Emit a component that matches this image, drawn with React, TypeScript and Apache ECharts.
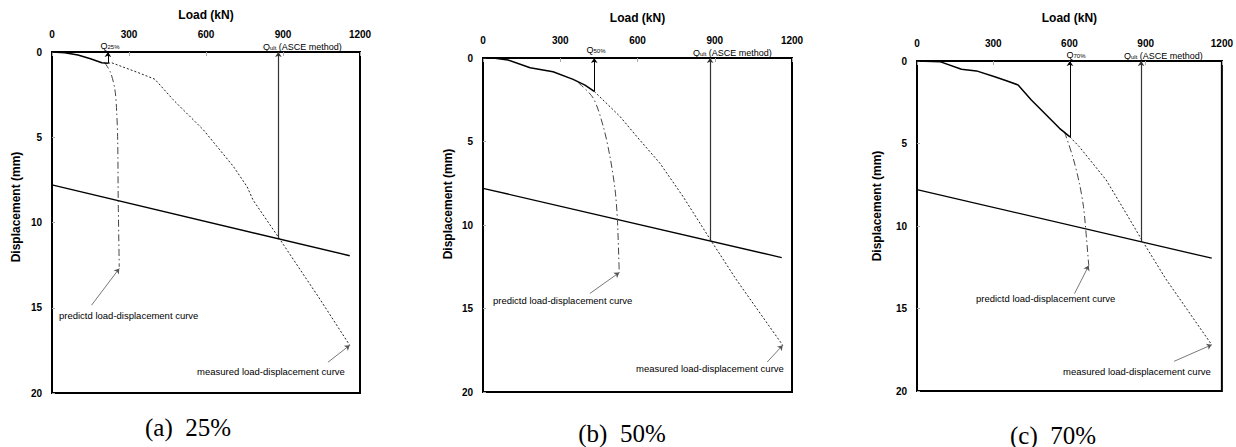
import { useEffect, useRef } from "react";
import * as echarts from "echarts";

// ---- axis settings ----
const LOAD_MIN = 0;
const LOAD_MAX = 1200;
const LOAD_STEP = 300;
const DISP_MIN = 0;
const DISP_MAX = 20;
const DISP_STEP = 5;

// ---- common lines ----
const OFFSET_LINE: number[][] = [[0, 7.8], [1160, 11.95]];
const Q_ULT = 882;
const Q_ULT_DISP = 10.95;

// ---- panel (a) 25% ----
const A_MEASURED_SOLID: number[][] = [[0, 0], [50, 0.05], [101, 0.18], [150, 0.4], [194, 0.63], [218, 0.66]];
const A_MEASURED_DOTTED: number[][] = [[218, 0.66], [232, 0.63], [343, 1.25], [401, 1.6], [472, 2.8], [590, 4.57], [706, 6.7], [760, 7.9], [784, 8.7], [884, 10.9], [1044, 14.5], [1160, 17.2]];
const A_PREDICTED: number[][] = [[205, 0.62], [228, 1.2], [245, 2.2], [252, 3.5], [256, 5.2], [258, 8.7], [262, 12.6]];
const A_Q = 218;
const A_Q_DISP = 0.66;
const A_PRED_ARROW: number[][] = [[154, 14.85], [262, 12.7]];
const A_MEAS_ARROW: number[][] = [[1075, 18.2], [1160, 17.2]];

// ---- panel (b) 50% ----
const B_MEASURED_SOLID: number[][] = [[0, 0], [47, 0.02], [97, 0.12], [183, 0.58], [272, 0.82], [350, 1.28], [396, 1.62], [432, 2.0]];
const B_MEASURED_DOTTED: number[][] = [[432, 2.0], [532, 3.5], [597, 4.7], [687, 6.3], [777, 8.3], [884, 10.9], [985, 13.3], [1164, 17.2]];
const B_PREDICTED: number[][] = [[370, 1.48], [428, 2.4], [467, 4.1], [493, 5.9], [513, 7.9], [522, 9.7], [529, 12.85]];
const B_Q = 432;
const B_Q_DISP = 2.0;
const B_PRED_ARROW: number[][] = [[415, 14.1], [529, 12.85]];
const B_MEAS_ARROW: number[][] = [[1104, 18.2], [1164, 17.2]];

// ---- panel (c) 70% ----
const C_MEASURED_SOLID: number[][] = [[0, 0], [90, 0.04], [175, 0.5], [234, 0.6], [306, 0.95], [352, 1.2], [398, 1.45], [450, 2.36], [509, 3.27], [561, 4.08], [602, 4.6]];
const C_MEASURED_DOTTED: number[][] = [[602, 4.6], [639, 5.2], [744, 7.2], [822, 9.2], [885, 10.85], [979, 13.2], [1160, 17.2]];
const C_PREDICTED: number[][] = [[580, 4.28], [613, 5.8], [639, 7.4], [655, 8.8], [663, 10.0], [676, 12.4]];
const C_Q = 602;
const C_Q_DISP = 4.6;
const C_PRED_ARROW: number[][] = [[620, 14.1], [676, 12.4]];
const C_MEAS_ARROW: number[][] = [[1012, 18.2], [1160, 17.2]];

// ---- texts ----
const X_TITLE = "Load (kN)";
const Y_TITLE = "Displacement (mm)";
const PRED_LABEL = "predictd load-displacement curve";
const MEAS_LABEL = "measured load-displacement curve";
const Q_LABELS = ["25%", "50%", "70%"];
const CAPTIONS = ["(a)  25%", "(b)  50%", "(c)  70%"];

const SANS = '"Liberation Sans", Arial, sans-serif';
const SERIF = '"Liberation Serif", "DejaVu Serif", serif';

const panels = [
  {
    grid: { left: 52, top: 52, width: 308, height: 341 },
    nameGap: 31,
    solid: A_MEASURED_SOLID, dotted: A_MEASURED_DOTTED, pred: A_PREDICTED,
    q: A_Q, qDisp: A_Q_DISP, predArrow: A_PRED_ARROW, measArrow: A_MEAS_ARROW,
    yTitle: [16, 207], caption: [188, 427],
    qLabelPos: [110, 45], qultLabelPos: [263, 46],
    predLabelPos: [59, 315], measLabelPos: [197, 371],
  },
  {
    grid: { left: 483, top: 58, width: 309, height: 334 },
    nameGap: 34,
    solid: B_MEASURED_SOLID, dotted: B_MEASURED_DOTTED, pred: B_PREDICTED,
    q: B_Q, qDisp: B_Q_DISP, predArrow: B_PRED_ARROW, measArrow: B_MEAS_ARROW,
    yTitle: [448, 204], caption: [622, 433],
    qLabelPos: [596, 49], qultLabelPos: [693, 52],
    predLabelPos: [493, 300], measLabelPos: [636, 368],
  },
  {
    grid: { left: 917, top: 61, width: 306, height: 330 },
    nameGap: 37,
    solid: C_MEASURED_SOLID, dotted: C_MEASURED_DOTTED, pred: C_PREDICTED,
    q: C_Q, qDisp: C_Q_DISP, predArrow: C_PRED_ARROW, measArrow: C_MEAS_ARROW,
    yTitle: [877, 206], caption: [1053, 435],
    qLabelPos: [1076, 54], qultLabelPos: [1124, 55],
    predLabelPos: [976, 298], measLabelPos: [1063, 371],
  },
];

export default function App() {
  const ref = useRef<HTMLDivElement>(null);

  useEffect(() => {
    if (!ref.current) return;
    const chart = echarts.init(ref.current, null, { renderer: "svg" });

    const grids: any[] = [];
    const xAxes: any[] = [];
    const yAxes: any[] = [];
    const series: any[] = [];
    const graphics: any[] = [];

    const subRich = {
      m: { fontFamily: SANS, fontSize: 9, fill: "#000", verticalAlign: "bottom" },
      s: { fontFamily: SANS, fontSize: 6, fill: "#000", verticalAlign: "bottom", padding: [4, 0, 0, 0] },
    };

    panels.forEach((p, i) => {
      grids.push({ ...p.grid, show: true, borderColor: "#000", borderWidth: 2, backgroundColor: "#fff" });
      xAxes.push({
        gridIndex: i, type: "value", position: "top", min: LOAD_MIN, max: LOAD_MAX, interval: LOAD_STEP,
        name: X_TITLE, nameLocation: "middle", nameGap: p.nameGap,
        nameTextStyle: { fontFamily: SANS, fontWeight: "bold", fontSize: 12, color: "#000" },
        axisLine: { show: true, lineStyle: { color: "#000", width: 2 } },
        axisTick: { show: true, inside: true, length: 4, lineStyle: { color: "#aaa" } },
        axisLabel: {
          fontFamily: SANS, fontWeight: "bold", fontSize: 10, color: "#000", margin: 13,
          formatter: (v: number) => String(v),
        },
        splitLine: { show: false },
      });
      yAxes.push({
        gridIndex: i, type: "value", inverse: true, min: DISP_MIN, max: DISP_MAX, interval: DISP_STEP,
        axisLine: { show: true, lineStyle: { color: "#000", width: 2 } },
        axisTick: { show: true, inside: true, length: 3, lineStyle: { color: "#aaa" } },
        axisLabel: {
          fontFamily: SANS, fontWeight: "bold", fontSize: 10, color: "#000", margin: 10,
          formatter: (v: number) => String(v),
        },
        splitLine: { show: false },
      });
      const ax = { xAxisIndex: i, yAxisIndex: i };
      series.push({
        type: "line", ...ax, data: OFFSET_LINE, showSymbol: false, symbol: "none",
        lineStyle: { color: "#000", width: 1.3 },
      });
      series.push({
        type: "line", ...ax, data: p.dotted, showSymbol: false, symbol: "none",
        lineStyle: { color: "#222", width: 1, type: [2, 2] },
      });
      series.push({
        type: "line", ...ax, data: p.pred, showSymbol: false, symbol: "none", smooth: 0.3,
        lineStyle: { color: "#444", width: 1, type: [7, 3, 1.5, 3] },
      });
      series.push({
        type: "line", ...ax, data: p.solid, showSymbol: false, symbol: "none",
        lineStyle: { color: "#000", width: 1.5 },
      });
      series.push({
        type: "lines", coordinateSystem: "cartesian2d", ...ax,
        symbol: ["none", "arrow"], symbolSize: 5,
        lineStyle: { color: "#000", width: 1, opacity: 1, curveness: 0 },
        data: [
          { coords: [[p.q, p.qDisp], [p.q, 0]] },
          { coords: [[Q_ULT, Q_ULT_DISP], [Q_ULT, 0]], lineStyle: { color: "#333", width: 1.2 } },
          { coords: p.predArrow, lineStyle: { color: "#555", width: 0.8 } },
          { coords: p.measArrow, lineStyle: { color: "#555", width: 0.8 } },
        ],
      });

      graphics.push({
        type: "text", x: p.yTitle[0], y: p.yTitle[1], rotation: Math.PI / 2,
        style: { text: Y_TITLE, font: `bold 12px ${SANS}`, fill: "#000", align: "center", verticalAlign: "middle" },
      });
      graphics.push({
        type: "text", x: p.caption[0], y: p.caption[1],
        style: { text: CAPTIONS[i], font: `25px ${SERIF}`, fill: "#000", align: "center", verticalAlign: "middle" },
      });
      graphics.push({
        type: "text", x: p.qLabelPos[0], y: p.qLabelPos[1],
        style: { text: `{m|Q}{s|${Q_LABELS[i]}}`, align: "center", verticalAlign: "middle", rich: subRich },
      });
      graphics.push({
        type: "text", x: p.qultLabelPos[0], y: p.qultLabelPos[1],
        style: { text: `{m|Q}{s|ult}{m| (ASCE method)}`, align: "left", verticalAlign: "middle", rich: subRich },
      });
      graphics.push({
        type: "text", x: p.predLabelPos[0], y: p.predLabelPos[1],
        style: { text: PRED_LABEL, font: `9.5px ${SANS}`, fill: "#000", align: "left", verticalAlign: "middle" },
      });
      graphics.push({
        type: "text", x: p.measLabelPos[0], y: p.measLabelPos[1],
        style: { text: MEAS_LABEL, font: `9.5px ${SANS}`, fill: "#000", align: "left", verticalAlign: "middle" },
      });
    });

    chart.setOption({
      animation: false,
      backgroundColor: "#fff",
      grid: grids,
      xAxis: xAxes,
      yAxis: yAxes,
      series,
      graphic: graphics,
    });

    return () => chart.dispose();
  }, []);

  return (
    <div
      ref={ref}
      style={{ position: "absolute", left: 0, top: 0, width: 1236, height: 447, background: "#fff" }}
    />
  );
}
